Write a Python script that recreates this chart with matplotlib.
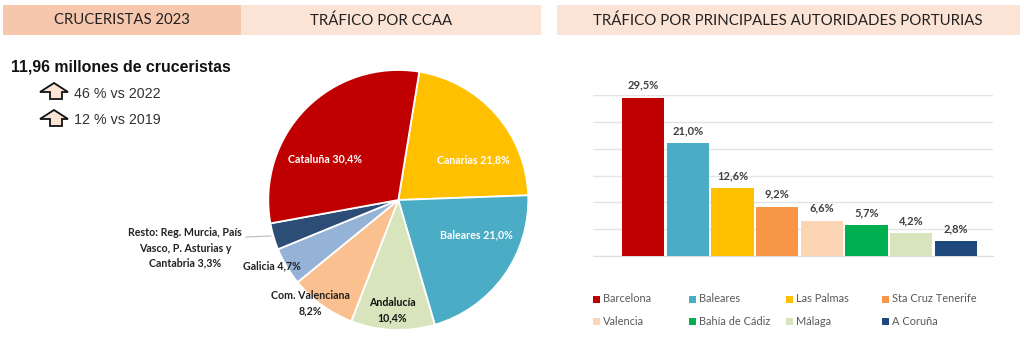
import matplotlib
matplotlib.use('Agg')
from matplotlib import pyplot as plt
from matplotlib.patches import Rectangle, Polygon

# data
regiones = ['Canarias', 'Baleares', 'Andalucía', 'Com. Valenciana', 'Galicia', 'Resto', 'Cataluña']
regiones_valores = [21.8, 21.0, 10.4, 8.2, 4.7, 3.3, 30.4]
regiones_colores = ['#FFC000', '#4BACC6', '#D8E4BC', '#FAC090', '#95B3D7', '#2C4D75', '#C00000']

puertos = ['Barcelona', 'Baleares', 'Las Palmas', 'Sta Cruz Tenerife',
           'Valencia', 'Bahía de Cádiz', 'Málaga', 'A Coruña']
puertos_valores = [29.5, 21.0, 12.6, 9.2, 6.6, 5.7, 4.2, 2.8]
puertos_colores = ['#C00000', '#4BACC6', '#FFC000', '#F79646',
                   '#FCD5B5', '#00B050', '#D8E4BC', '#1F497D']

W, H = 1024, 358
LABEL_FONT = ['Lato', 'DejaVu Sans']
plt.rcParams['font.family'] = LABEL_FONT

fig = plt.figure(figsize=(W / 100, H / 100), dpi=100)

# overlay in pixel coords, for headers and loose text
over = fig.add_axes([0, 0, 1, 1], zorder=5)
over.set_xlim(0, W)
over.set_ylim(H, 0)
over.axis('off')

# headers
over.add_patch(Rectangle((2.5, 5), 238.5, 30, color='#F6C6AD', lw=0))
over.add_patch(Rectangle((241, 5), 300, 30, color='#FBE3D6', lw=0))
over.add_patch(Rectangle((557, 5), 463, 30, color='#FBE3D6', lw=0))
over.text(121.5, 20.5, 'CRUCERISTAS 2023', ha='center', va='center', fontsize=10.7, color='#222222')
over.text(381, 20.5, 'TRÁFICO POR CCAA', ha='center', va='center', fontsize=10.8, color='#222222')
over.text(788, 20.5, 'TRÁFICO POR PRINCIPALES AUTORIDADES PORTURIAS', ha='center', va='center',
          fontsize=10.8, color='#222222')

# left text
over.text(11, 66.5, '11,96 millones de cruceristas', ha='left', va='center', fontsize=11.4,
          fontweight='bold', family='Liberation Sans', color='#111111')
for y, txt in [(93.5, '46 % vs 2022'), (120.5, '12 % vs 2019')]:
    arrow = [(54, y - 10.5), (68, y - 1.5), (62, y - 1.5), (62, y + 5.5),
             (50, y + 5.5), (50, y - 1.5), (40, y - 1.5)]
    over.add_patch(Polygon(arrow, closed=True, facecolor='#FBE3D6', edgecolor='#111111', lw=1.3))
    over.text(74, y, txt, ha='left', va='center', fontsize=10.3, family='Liberation Sans', color='#333333')

# pie
ax1 = fig.add_axes([268.3 / W, 1 - 330 / H, 260 / W, 260 / H])
ax1.pie(regiones_valores, colors=regiones_colores, startangle=80.7, counterclock=False,
        wedgeprops={'edgecolor': 'white', 'linewidth': 1.3})
ax1.set_xlim(-1, 1)
ax1.set_ylim(-1, 1)

pie_labels = [
    (325.5, 159, 'Cataluña 30,4%', 'white'),
    (473.5, 160, 'Canarias 21,8%', 'white'),
    (476, 235, 'Baleares 21,0%', 'white'),
    (392.5, 310, 'Andalucía\n10,4%', '#111111'),
    (310, 303, 'Com. Valenciana\n8,2%', '#222222'),
    (272, 266, 'Galicia 4,7%', '#222222'),
    (185, 248, 'Resto: Reg. Murcia, País\nVasco, P. Asturias y\nCantabria 3,3%', '#222222'),
]
for x, y, txt, col in pie_labels:
    over.text(x, y, txt, ha='center', va='center', fontsize=7.7, fontweight='bold',
              color=col, linespacing=1.45)
over.plot([246, 271], [237, 236], color='#BBBBBB', lw=0.8)

# bars
ax2 = fig.add_axes([593 / W, 1 - 256 / H, 400 / W, 161 / H])
x = range(len(puertos))
ax2.bar(x, puertos_valores, width=0.95, color=puertos_colores, zorder=3)
ax2.set_xlim(-1.12, 7.83)
ax2.set_ylim(0, 30)
ax2.set_yticks(range(0, 31, 5))
ax2.set_xticks([])
ax2.tick_params(left=False, labelleft=False)
ax2.grid(axis='y', color='#E4E4E4', lw=1, zorder=0)
for s in ['top', 'right', 'left']:
    ax2.spines[s].set_visible(False)
ax2.spines['bottom'].set_color('#DDDDDD')
for i, v in enumerate(puertos_valores):
    ax2.annotate(f'{v:.1f}%'.replace('.', ','), (i, v), xytext=(0, 5), textcoords='offset points',
                 ha='center', va='bottom', fontsize=8, fontweight='bold', color='#404040')

# legend, filled by rows like the original
cols = [593, 689, 786, 882]
rows = [299, 321.5]
for i, (name, col) in enumerate(zip(puertos, puertos_colores)):
    lx = cols[i % 4]
    ly = rows[i // 4]
    over.add_patch(Rectangle((lx, ly - 3.5), 7, 7, color=col, lw=0))
    over.text(lx + 10, ly, name, ha='left', va='center', fontsize=7.9, color='#595959')

fig.savefig('out.png', dpi=100)
